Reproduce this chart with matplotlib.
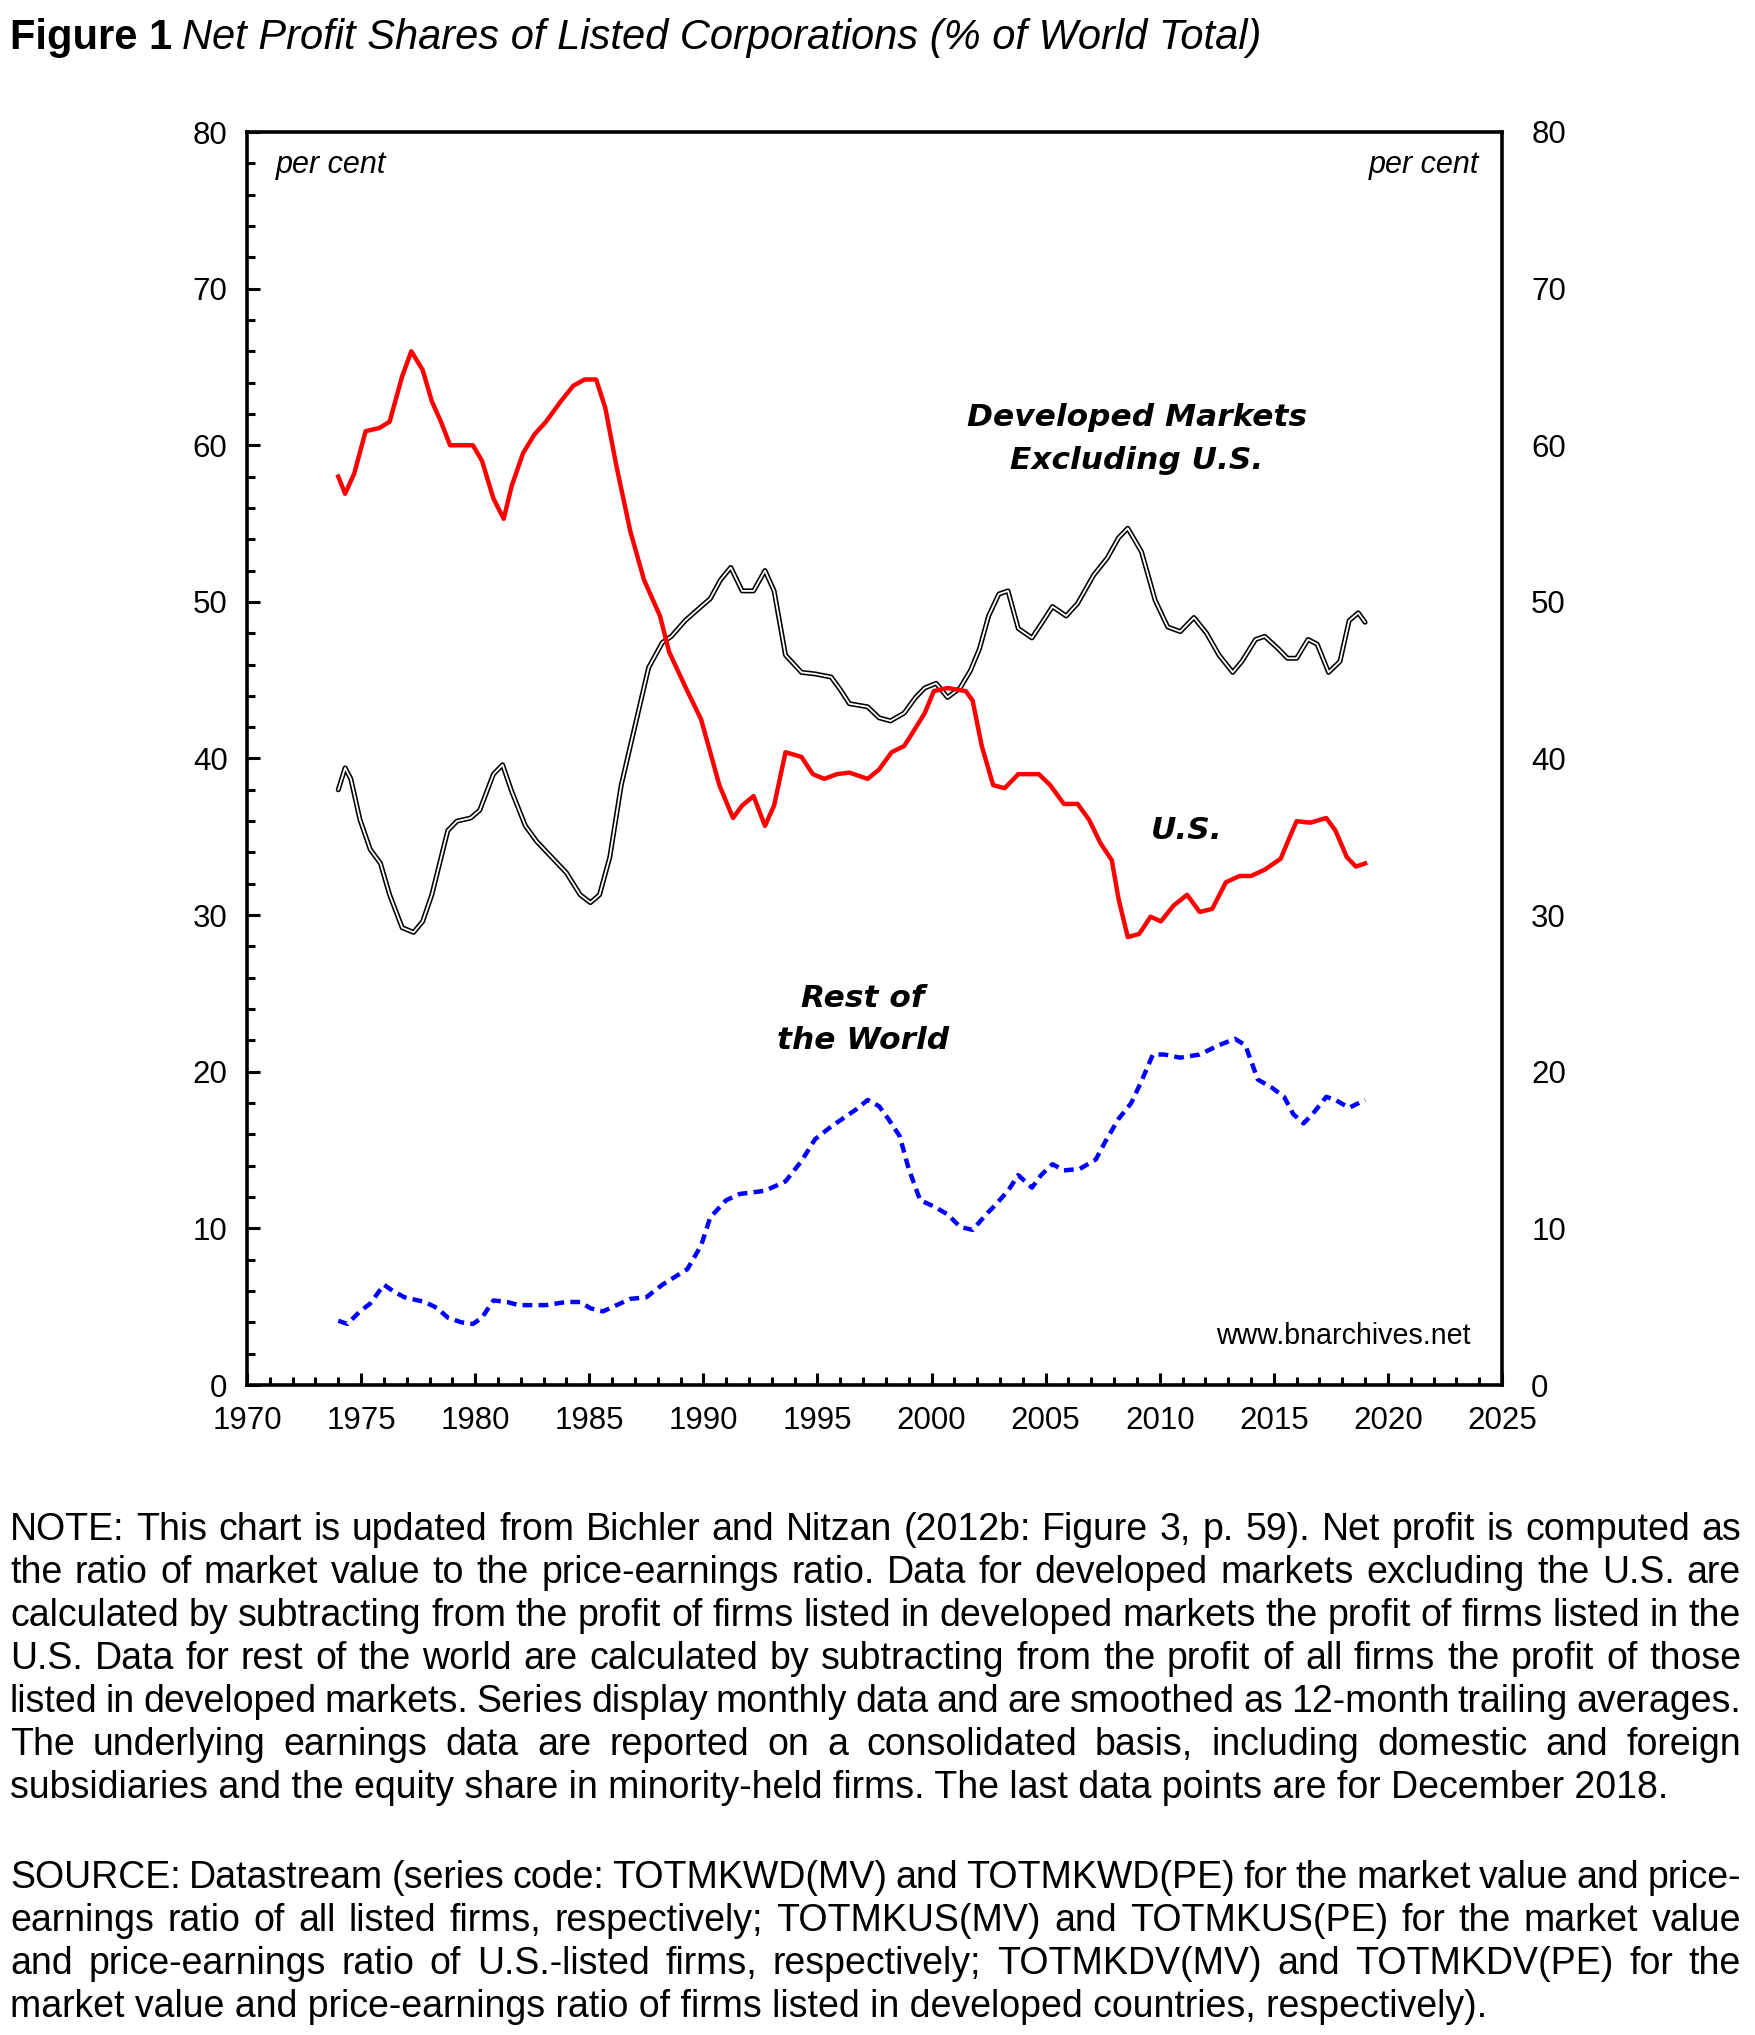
import matplotlib
matplotlib.use("Agg")
import matplotlib.pyplot as plt
from matplotlib.ticker import MultipleLocator

plt.rcParams['font.family'] = ['Liberation Sans', 'DejaVu Sans']

# ---------------- data ----------------
us_years = [1974.0, 1974.3, 1974.7, 1975.2, 1975.8, 1976.25, 1976.8, 1977.2, 1977.7, 1978.1,
            1978.5, 1978.9, 1979.4, 1979.9, 1980.3, 1980.8, 1981.25, 1981.6, 1982.1, 1982.6,
            1983.1, 1983.75, 1984.3, 1984.8, 1985.3, 1985.7, 1986.2, 1986.8, 1987.4, 1988.1,
            1988.5, 1989.3, 1989.9, 1990.3, 1990.7, 1991.3, 1991.7, 1992.2, 1992.7, 1993.1,
            1993.6, 1994.3, 1994.8, 1995.3, 1995.85, 1996.4, 1997.2, 1997.7, 1998.25, 1998.8,
            1999.15, 1999.7, 2000.1, 2000.7, 2001.5, 2001.8, 2002.2, 2002.7, 2003.2, 2003.8,
            2004.7, 2005.2, 2005.8, 2006.4, 2006.9, 2007.4, 2007.9, 2008.2, 2008.6, 2009.1,
            2009.6, 2010.05, 2010.6, 2011.2, 2011.75, 2012.3, 2012.9, 2013.5, 2014.0, 2014.6,
            2015.3, 2015.7, 2016.0, 2016.6, 2017.3, 2017.7, 2018.2, 2018.6, 2019.0]
us_vals = [58.0, 56.9, 58.2, 60.9, 61.1, 61.5, 64.4, 66.0, 64.8, 62.8,
           61.5, 60.0, 60.0, 60.0, 59.0, 56.6, 55.3, 57.4, 59.5, 60.7,
           61.5, 62.8, 63.8, 64.2, 64.2, 62.4, 58.6, 54.5, 51.4, 49.1,
           46.8, 44.3, 42.5, 40.4, 38.3, 36.2, 37.0, 37.6, 35.7, 37.0,
           40.4, 40.1, 39.0, 38.7, 39.0, 39.1, 38.7, 39.3, 40.4, 40.8,
           41.6, 42.9, 44.3, 44.5, 44.3, 43.7, 40.8, 38.3, 38.1, 39.0,
           39.0, 38.3, 37.1, 37.1, 36.1, 34.6, 33.5, 31.0, 28.6, 28.8,
           29.9, 29.6, 30.6, 31.3, 30.2, 30.4, 32.1, 32.5, 32.5, 32.9,
           33.6, 35.0, 36.0, 35.9, 36.2, 35.4, 33.7, 33.1, 33.3]

dm_years = [1974.0, 1974.3, 1974.55, 1974.95, 1975.4, 1975.85, 1976.25, 1976.8, 1977.3, 1977.7,
            1978.1, 1978.8, 1979.2, 1979.8, 1980.2, 1980.8, 1981.2, 1981.6, 1982.2, 1982.7,
            1983.35, 1984.0, 1984.6, 1985.05, 1985.45, 1985.9, 1986.4, 1986.8, 1987.2, 1987.6,
            1988.2, 1988.6, 1989.2, 1989.9, 1990.3, 1990.75, 1991.2, 1991.7, 1992.2, 1992.7,
            1993.1, 1993.6, 1994.3, 1994.9, 1995.6, 1996.0, 1996.4, 1997.2, 1997.7, 1998.2,
            1998.8, 1999.3, 1999.7, 2000.2, 2000.7, 2001.25, 2001.7, 2002.1, 2002.5, 2002.95,
            2003.35, 2003.8, 2004.4, 2004.9, 2005.3, 2005.9, 2006.4, 2007.1, 2007.7, 2008.2,
            2008.6, 2009.2, 2009.8, 2010.35, 2010.9, 2011.5, 2012.05, 2012.6, 2013.2, 2013.6,
            2014.2, 2014.6, 2015.2, 2015.6, 2016.0, 2016.5, 2016.9, 2017.4, 2017.9, 2018.3,
            2018.7, 2019.0]
dm_vals = [38.0, 39.4, 38.7, 36.1, 34.2, 33.3, 31.3, 29.2, 28.9, 29.6,
           31.3, 35.4, 36.0, 36.2, 36.7, 39.0, 39.6, 37.9, 35.7, 34.7,
           33.7, 32.7, 31.3, 30.8, 31.3, 33.7, 38.3, 40.8, 43.3, 45.8,
           47.4, 47.8, 48.8, 49.7, 50.2, 51.4, 52.2, 50.7, 50.7, 52.0,
           50.7, 46.6, 45.5, 45.4, 45.2, 44.4, 43.5, 43.3, 42.6, 42.4,
           42.9, 43.9, 44.5, 44.8, 43.9, 44.5, 45.6, 47.0, 49.1, 50.5,
           50.7, 48.3, 47.7, 48.8, 49.7, 49.1, 49.9, 51.7, 52.8, 54.1,
           54.7, 53.2, 50.1, 48.4, 48.1, 49.0, 48.0, 46.6, 45.5, 46.2,
           47.6, 47.8, 47.0, 46.4, 46.4, 47.6, 47.3, 45.5, 46.2, 48.8,
           49.3, 48.7]

rw_years = [1974.0, 1974.4, 1974.95, 1975.4, 1976.0, 1976.4, 1976.9, 1977.8, 1978.35, 1978.8,
            1979.4, 1979.9, 1980.3, 1980.8, 1981.4, 1981.9, 1983.1, 1984.0, 1984.6, 1985.05,
            1985.6, 1986.2, 1986.8, 1987.5, 1988.2, 1988.75, 1989.3, 1989.9, 1990.3, 1991.0,
            1991.6, 1992.7, 1993.6, 1994.3, 1994.9, 1995.6, 1996.1, 1996.7, 1997.2, 1997.7,
            1998.1, 1998.6, 1999.0, 1999.5, 2000.1, 2000.7, 2001.25, 2001.8, 2002.4, 2002.8,
            2003.35, 2003.8, 2004.4, 2004.8, 2005.3, 2005.8, 2006.5, 2007.2, 2007.6, 2008.2,
            2008.75, 2009.2, 2009.7, 2010.2, 2010.9, 2011.75, 2012.6, 2013.3, 2013.75, 2014.3,
            2014.9, 2015.45, 2015.85, 2016.3, 2016.7, 2017.3, 2017.7, 2018.3, 2019.0]
rw_vals = [4.1, 3.9, 4.7, 5.2, 6.4, 6.0, 5.6, 5.3, 4.9, 4.3,
           4.0, 3.9, 4.3, 5.4, 5.3, 5.1, 5.1, 5.3, 5.3, 4.9,
           4.7, 5.1, 5.5, 5.6, 6.4, 6.9, 7.4, 8.9, 10.7, 11.8,
           12.2, 12.4, 13.0, 14.3, 15.7, 16.5, 17.0, 17.6, 18.2, 17.8,
           17.0, 15.9, 13.8, 11.8, 11.4, 10.9, 10.1, 9.9, 10.9, 11.5,
           12.4, 13.4, 12.6, 13.4, 14.1, 13.7, 13.8, 14.4, 15.5, 17.0,
           18.0, 19.4, 21.1, 21.1, 20.9, 21.1, 21.7, 22.1, 21.7, 19.5,
           19.0, 18.4, 17.3, 16.7, 17.3, 18.4, 18.2, 17.7, 18.2]

x_ticks = [1970, 1975, 1980, 1985, 1990, 1995, 2000, 2005, 2010, 2015, 2020, 2025]
y_ticks = [0, 10, 20, 30, 40, 50, 60, 70, 80]

note_lines = [
    "NOTE: This chart is updated from Bichler and Nitzan (2012b: Figure 3, p. 59). Net profit is computed as",
    "the ratio of market value to the price-earnings ratio. Data for developed markets excluding the U.S. are",
    "calculated by subtracting from the profit of firms listed in developed markets the profit of firms listed in the",
    "U.S. Data for rest of the world are calculated by subtracting from the profit of all firms the profit of those",
    "listed in developed markets. Series display monthly data and are smoothed as 12-month trailing averages.",
    "The underlying earnings data are reported on a consolidated basis, including domestic and foreign",
    "subsidiaries and the equity share in minority-held firms. The last data points are for December 2018.",
]
source_lines = [
    "SOURCE: Datastream (series code: TOTMKWD(MV) and TOTMKWD(PE) for the market value and price-",
    "earnings ratio of all listed firms, respectively; TOTMKUS(MV) and TOTMKUS(PE) for the market value",
    "and price-earnings ratio of U.S.-listed firms, respectively; TOTMKDV(MV) and TOTMKDV(PE) for the",
    "market value and price-earnings ratio of firms listed in developed countries, respectively).",
]

# ---------------- figure ----------------
W, H = 1755, 2035
fig = plt.figure(figsize=(W / 100, H / 100), dpi=100)
fig.patch.set_facecolor('white')
ax = fig.add_axes([247 / W, 1 - 1385 / H, (1502 - 247) / W, (1385 - 132) / H])
ax.set_xlim(1970, 2025)
ax.set_ylim(0, 80)

# lines
ax.plot(dm_years, dm_vals, color='black', lw=3.6, solid_joinstyle='round',
        solid_capstyle='round', zorder=3)
ax.plot(dm_years, dm_vals, color='white', lw=1.3, solid_joinstyle='round',
        solid_capstyle='round', zorder=3.1)
ax.plot(us_years, us_vals, color='#ff0000', lw=3.2, solid_joinstyle='round', zorder=4)
ax.plot(rw_years, rw_vals, color='#0000ff', lw=3.2, dashes=(2.2, 1.4), zorder=4)

# ticks & spines
for s in ax.spines.values():
    s.set_linewidth(2.6)
ax.set_xticks(x_ticks)
ax.xaxis.set_minor_locator(MultipleLocator(1))
ax.set_yticks(y_ticks)
ax.yaxis.set_minor_locator(MultipleLocator(2))
ax.tick_params(axis='both', which='both', direction='in', top=False, right=True,
               width=2.2, labelsize=22.5)
ax.tick_params(axis='both', which='major', length=9)
ax.tick_params(axis='both', which='minor', length=5.5)
ax.tick_params(axis='y', pad=14)
ax.tick_params(axis='x', pad=15)

ax2 = ax.twinx()
ax2.set_ylim(0, 80)
ax2.set_yticks(y_ticks)
ax2.yaxis.set_minor_locator(MultipleLocator(2))
ax2.tick_params(axis='y', which='both', direction='in', width=2.2, labelsize=22.5, pad=21,
                length=0)
for s in ax2.spines.values():
    s.set_visible(False)

# annotations
lab = dict(family='DejaVu Sans', fontweight='bold', fontstyle='italic', fontsize=22.5,
           ha='center', va='center')
ax.text(2009.0, 61.8, "Developed Markets", **lab)
ax.text(2009.0, 59.0, "Excluding U.S.", **lab)
ax.text(2011.2, 35.4, "U.S.", **lab)
ax.text(1997.0, 24.7, "Rest of", **lab)
ax.text(1997.0, 22.0, "the World", **lab)
ax.text(1971.25, 77.9, "per cent", fontstyle='italic', fontsize=22, ha='left', va='center')
ax.text(2024.0, 77.9, "per cent", fontstyle='italic', fontsize=22, ha='right', va='center')
ax.text(2023.6, 3.1, "www.bnarchives.net", fontsize=20.6, ha='right', va='center')

# title
renderer = fig.canvas.get_renderer()
ty = 1 - 49 / H
t1 = fig.text(10 / W, ty, "Figure 1", fontsize=30, fontweight='bold', ha='left', va='baseline')
w1 = t1.get_window_extent(renderer).width
fig.text((10 + w1 + 10) / W, ty, "Net Profit Shares of Listed Corporations (% of World Total)",
         fontsize=30, fontstyle='italic', ha='left', va='baseline')

# justified paragraphs
FS = 27
LEFT, RIGHT = 10, 1741

def justified(lines, y0, step):
    for i, line in enumerate(lines):
        y = 1 - (y0 + i * step) / H
        if i == len(lines) - 1:
            fig.text(LEFT / W, y, line, fontsize=FS, ha='left', va='baseline')
            continue
        words = line.split(' ')
        txts = [fig.text(0, y, w_, fontsize=FS, ha='left', va='baseline') for w_ in words]
        widths = [t.get_window_extent(renderer).width for t in txts]
        gap = (RIGHT - LEFT - sum(widths)) / (len(words) - 1)
        x = LEFT
        for t, wd in zip(txts, widths):
            t.set_x(x / W)
            x += wd + gap

justified(note_lines, 1540, 43)
justified(source_lines, 1888, 43)

fig.savefig("out.png", dpi=100, facecolor='white')
